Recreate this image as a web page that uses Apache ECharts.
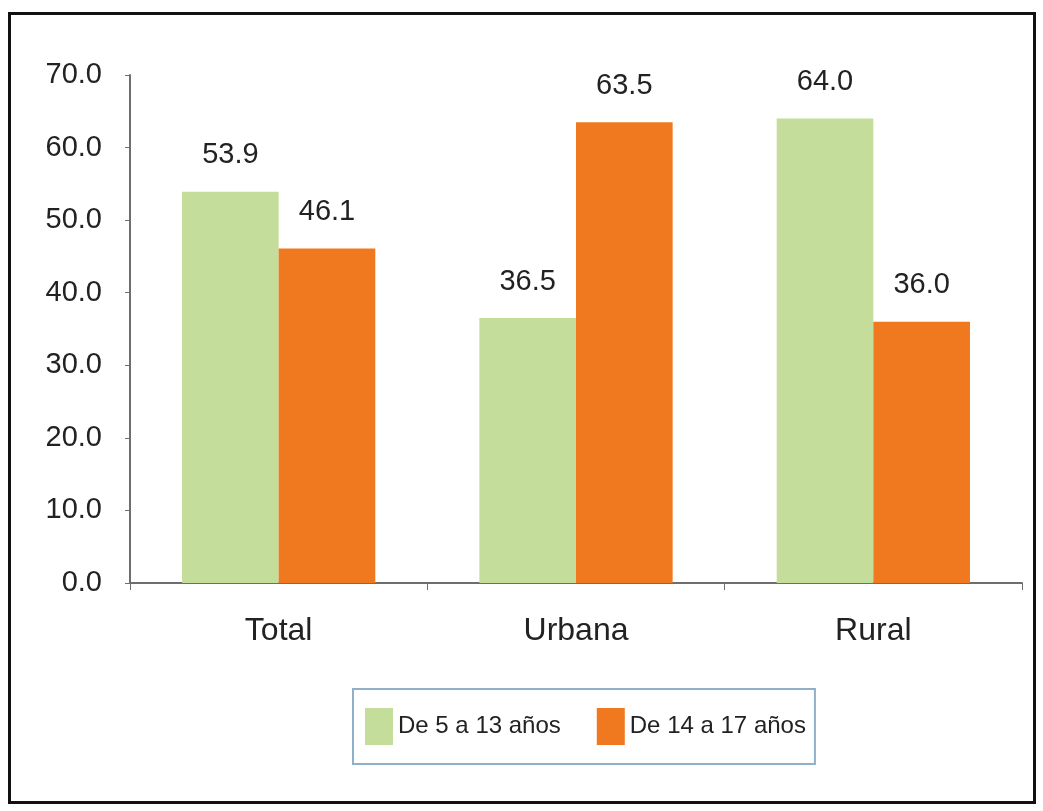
<!DOCTYPE html>
<html>
<head>
<meta charset="utf-8">
<script src="https://cdn.jsdelivr.net/npm/echarts@6/dist/echarts.min.js"></script>
<style>
html,body{margin:0;padding:0;background:#fff;}
#chart{width:1043px;height:811px;}
</style>
</head>
<body>
<div id="chart"></div>
<script>
const categories = ['Total', 'Urbana', 'Rural'];
const seriesNames = ['De 5 a 13 años', 'De 14 a 17 años'];
const young = [53.9, 36.5, 64.0];
const older = [46.1, 63.5, 36.0];
const FONT = "'Liberation Sans Narrow', 'Arial Narrow', 'Liberation Sans', Arial, sans-serif";

const chart = echarts.init(document.getElementById('chart'), null, {renderer: 'canvas'});
const labelCfg = {
  show: true,
  position: 'top',
  distance: 22,
  fontFamily: FONT,
  fontSize: 29,
  color: '#222',
  formatter: p => p.value.toFixed(1)
};
chart.setOption({
  backgroundColor: '#fff',
  animation: false,
  grid: {left: 130, top: 75, right: 21, bottom: 228, containLabel: false},
  legend: {
    data: seriesNames,
    left: 353, top: 689,
    orient: 'horizontal',
    itemWidth: 28, itemHeight: 37,
    itemGap: 36,
    padding: [19, 9, 19, 12],
    borderColor: '#8fb0c8', borderWidth: 2,
    icon: 'rect',
    textStyle: {fontFamily: FONT, fontSize: 24, color: '#222'}
  },
  xAxis: {
    type: 'category',
    data: categories,
    axisLine: {show: true, lineStyle: {color: '#6e6e6e', width: 2}},
    axisTick: {show: true, alignWithLabel: false, length: 7, lineStyle: {color: '#6e6e6e', width: 1}},
    axisLabel: {fontFamily: FONT, fontSize: 32, color: '#222', margin: 32}
  },
  yAxis: {
    type: 'value',
    min: 0, max: 70, interval: 10,
    splitLine: {show: false},
    axisLine: {show: true, lineStyle: {color: '#6e6e6e', width: 2}},
    axisTick: {show: true, length: 5, lineStyle: {color: '#6e6e6e', width: 1}},
    axisLabel: {fontFamily: FONT, fontSize: 29, color: '#222', margin: 28, formatter: v => v.toFixed(1)}
  },
  series: [
    {name: seriesNames[0], type: 'bar', data: young, barGap: '0%', barCategoryGap: '35%',
     itemStyle: {color: '#c4dd9b'}, label: labelCfg},
    {name: seriesNames[1], type: 'bar', data: older, barGap: '0%', barCategoryGap: '35%',
     itemStyle: {color: '#f0781e'}, label: labelCfg}
  ],
  graphic: [{
    type: 'rect', shape: {x: 9.5, y: 13.5, width: 1025, height: 789},
    style: {fill: 'none', stroke: '#111', lineWidth: 3}, z: 100
  }]
});
</script>
</body>
</html>
